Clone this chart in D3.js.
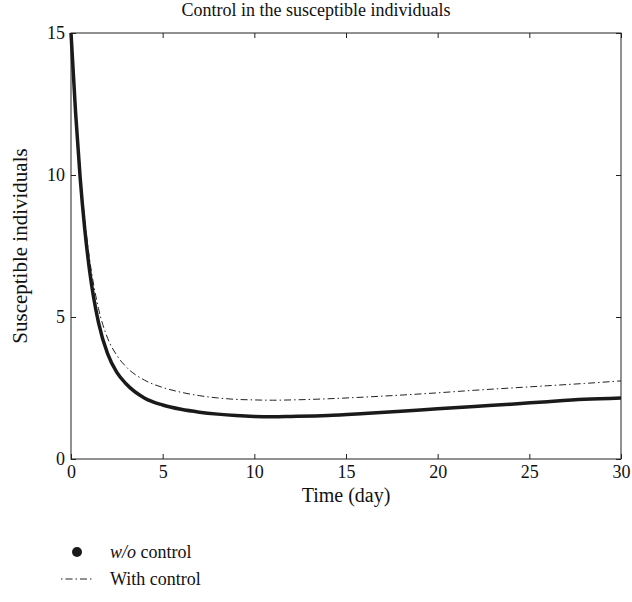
<!DOCTYPE html>
<html>
<head>
<meta charset="utf-8">
<script src="https://cdn.jsdelivr.net/npm/d3@7"></script>
<style>
  body { margin: 0; background: #fff; }
  svg { display: block; }
  text { font-family: "Liberation Serif", "DejaVu Serif", serif; fill: #111; }
</style>
</head>
<body>
<svg id="chart" width="632" height="602"></svg>
<script>
const days = [0, 0.25, 0.5, 0.75, 1, 1.5, 2, 2.5, 3, 4, 5, 6, 7, 8, 9, 10, 11, 12, 14, 16, 18, 20, 22, 24, 26, 28, 30];
const withoutControl = [15, 12.2, 9.9, 8.1, 6.7, 4.8, 3.7, 3.05, 2.65, 2.15, 1.9, 1.75, 1.65, 1.58, 1.53, 1.5, 1.49, 1.5, 1.53, 1.6, 1.68, 1.77, 1.85, 1.93, 2.02, 2.1, 2.15];
const withControl = [15, 12.3, 10.1, 8.4, 7.1, 5.3, 4.25, 3.65, 3.25, 2.78, 2.52, 2.35, 2.23, 2.15, 2.1, 2.08, 2.07, 2.08, 2.12, 2.18, 2.25, 2.33, 2.42, 2.5, 2.58, 2.66, 2.75];
const xTicks = [0, 5, 10, 15, 20, 25, 30];
const yTicks = [0, 5, 10, 15];
const title = "Control in the susceptible individuals";
const xLabel = "Time (day)";
const yLabel = "Susceptible individuals";

(function () {
const svg = d3.select("#chart");
const mLeft = 71, mRight = 621, mTop = 33, mBottom = 459;
const x = d3.scaleLinear().domain([0, 30]).range([mLeft, mRight]);
const y = d3.scaleLinear().domain([0, 15]).range([mBottom, mTop]);
const fs = "18px";

svg.append("rect").attr("x", mLeft).attr("y", mTop).attr("width", mRight - mLeft).attr("height", mBottom - mTop)
  .attr("fill", "none").attr("stroke", "#222").attr("stroke-width", 1);

const tickLen = 5;
svg.append("g").attr("transform", `translate(0,${mBottom})`)
  .call(d3.axisBottom(x).tickValues(xTicks).tickSizeInner(-tickLen).tickSizeOuter(0).tickPadding(6));
svg.append("g").attr("transform", `translate(0,${mTop})`)
  .call(d3.axisTop(x).tickValues(xTicks).tickSizeInner(-tickLen).tickSizeOuter(0).tickFormat(""));
svg.append("g").attr("transform", `translate(${mLeft},0)`)
  .call(d3.axisLeft(y).tickValues(yTicks).tickSizeInner(-tickLen).tickSizeOuter(0).tickPadding(6));
svg.append("g").attr("transform", `translate(${mRight},0)`)
  .call(d3.axisRight(y).tickValues(yTicks).tickSizeInner(-tickLen).tickSizeOuter(0).tickFormat(""));

svg.selectAll(".domain").remove();
svg.selectAll(".tick line").attr("stroke", "#222");
svg.selectAll(".tick text").style("font-size", fs).style("font-family", "Liberation Serif, serif").attr("fill", "#111");

const line = d3.line().x(d => x(d[0])).y(d => y(d[1])).curve(d3.curveMonotoneX);

svg.append("path").datum(days.map((d, i) => [d, withControl[i]]))
  .attr("d", line).attr("fill", "none").attr("stroke", "#222").attr("stroke-width", 1)
  .attr("stroke-dasharray", "7,3,1.5,3");

svg.append("path").datum(days.map((d, i) => [d, withoutControl[i]]))
  .attr("d", line).attr("fill", "none").attr("stroke", "#1a1a1a").attr("stroke-width", 3.5);

svg.append("text").attr("x", 316).attr("y", 16).attr("text-anchor", "middle")
  .style("font-size", fs).text(title);
svg.append("text").attr("x", (mLeft + mRight) / 2).attr("y", 502).attr("text-anchor", "middle")
  .style("font-size", "20px").text(xLabel);
svg.append("text").attr("transform", `translate(27,${(mTop + mBottom) / 2}) rotate(-90)`).attr("text-anchor", "middle")
  .style("font-size", "21px").text(yLabel);

const lg = svg.append("g");
lg.append("circle").attr("cx", 77).attr("cy", 552).attr("r", 5).attr("fill", "#1a1a1a");
const t1 = lg.append("text").attr("x", 110).attr("y", 558).style("font-size", fs);
t1.append("tspan").style("font-style", "italic").text("w/o");
t1.append("tspan").text(" control");
lg.append("line").attr("x1", 61).attr("x2", 93).attr("y1", 579).attr("y2", 579)
  .attr("stroke", "#222").attr("stroke-width", 1).attr("stroke-dasharray", "1.5,3,7,3");
lg.append("text").attr("x", 110).attr("y", 585).style("font-size", fs).text("With control");
})();
</script>
</body>
</html>
